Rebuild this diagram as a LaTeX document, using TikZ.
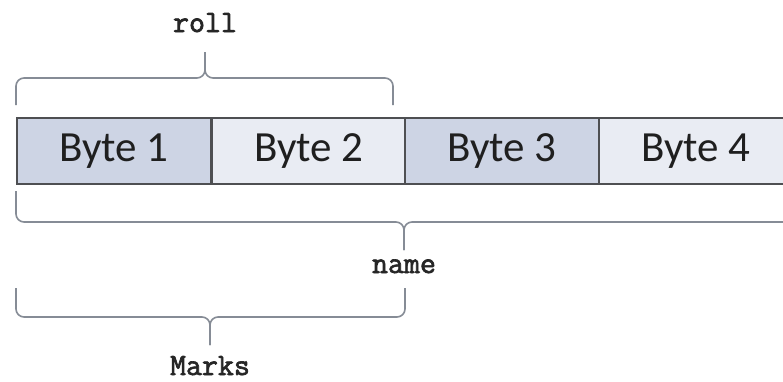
\documentclass[tikz,border=0pt]{standalone}
\usepackage{fontspec}
\newfontfamily\bytefont{Carlito}
\newfontfamily\codefont[FakeBold=2.2]{Latin Modern Mono}
\begin{document}
\definecolor{darkcell}{HTML}{CDD4E4}
\definecolor{lightcell}{HTML}{E9ECF3}
\definecolor{cellline}{HTML}{4E4F52}
\definecolor{bracecol}{HTML}{868C96}
\begin{tikzpicture}[x=1pt,y=-1pt,
  cell/.style={draw=cellline,line width=1.8pt,minimum width=194pt,minimum height=66pt,
    inner sep=0pt,anchor=north west,text=black!88,font=\bytefont\fontsize{43}{43}\selectfont},
  bracepath/.style={draw=bracecol,line width=1.6pt,rounded corners=8pt},
  codelabel/.style={font=\codefont\fontsize{31}{31}\selectfont,text=black!85,inner sep=0pt,anchor=base}]
\useasboundingbox (0,0) rectangle (783,381);
\clip (0,0) rectangle (783,381);
\fill[white] (0,0) rectangle (783,381);
% cells
\node[cell,fill=darkcell] (b1) at (16,117) {Byte 1};
\node[cell,fill=lightcell] (b2) at (211,117) {Byte 2};
\node[cell,fill=darkcell] (b3) at (404,117) {Byte 3};
\node[cell,fill=lightcell] (b4) at (598,117) {Byte 4};
% labels
\node[codelabel] (roll) at (205,32) {roll};
\node[codelabel] (name) at (404,273) {name};
\node[codelabel] (marks) at (210,375) {Marks};
% coordinates for braces
\coordinate (rollTip) at (205,52);
\coordinate (nameTip) at (404,250);
\coordinate (marksTip) at (210,345);
% roll brace
\draw[bracepath] (16,105) |- (205,78) -- (rollTip);
\draw[bracepath] (393,105) |- (205,78) -- (rollTip);
% name brace
\draw[bracepath] (16,191) |- (404,222) -- (nameTip);
\draw[bracepath] (800,191) |- (404,222) -- (nameTip);
% marks brace
\draw[bracepath] (16,288) |- (210,317) -- (marksTip);
\draw[bracepath] (405,288) |- (210,317) -- (marksTip);
\end{tikzpicture}
\end{document}
